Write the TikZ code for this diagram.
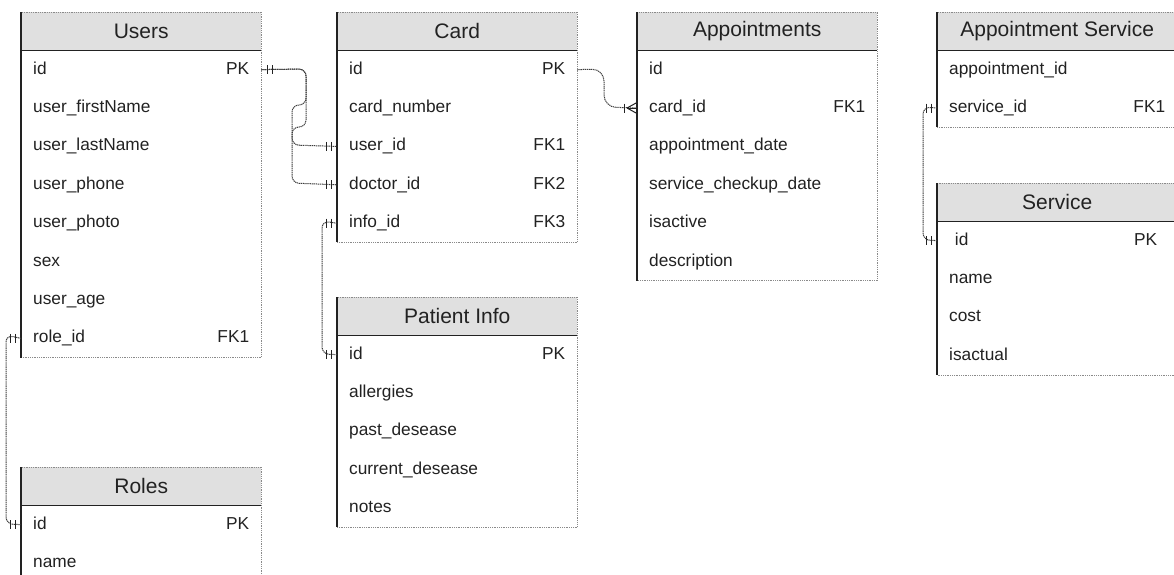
\documentclass[tikz,border=0pt]{standalone}
\usepackage{fontspec}
\setmainfont{Liberation Sans}
\definecolor{hdrfill}{HTML}{E0E0E0}
\definecolor{ink}{HTML}{222222}
\definecolor{edgegrey}{HTML}{8A8A8A}
\definecolor{connc}{HTML}{3C3C3C}
\tikzset{
 hdr/.style={anchor=north west, fill=hdrfill, minimum width=240pt, minimum height=38pt, inner sep=0pt, font=\fontsize{21}{25}\selectfont, text=ink},
 fld/.style={anchor=north west, minimum height=38pt, text width=216pt, inner xsep=12pt, inner ysep=0pt, text height=12.5pt, text depth=3.5pt, align=left, font=\fontsize{17.3}{20}\selectfont, text=ink},
 outline/.style={draw=edgegrey, line width=0.8pt, dash pattern=on 1pt off 0.8pt},
 leftline/.style={draw=ink, line width=1.5pt},
 hdrline/.style={draw=ink, line width=1.6pt},
 conn/.style={draw=connc, line width=1pt, dash pattern=on 1.2pt off 0.7pt, rounded corners=7pt},
 tick/.style={draw=ink, line width=1pt},
}
\begin{document}
\begin{tikzpicture}[x=1pt,y=-1pt]
\useasboundingbox (0,0) rectangle (1174,574);
\fill[white] (0,0) rectangle (1174,574);
\clip (0,0) rectangle (1174,574);

% Users
\node[hdr] (users) at (21,12) {Users};
\node[fld] (users-id) at (users.south west) {id\hfill PK};
\node[fld] (users-fn) at (users-id.south west) {user\_firstName};
\node[fld] (users-ln) at (users-fn.south west) {user\_lastName};
\node[fld] (users-ph) at (users-ln.south west) {user\_phone};
\node[fld] (users-pt) at (users-ph.south west) {user\_photo};
\node[fld] (users-sx) at (users-pt.south west) {sex};
\node[fld] (users-ag) at (users-sx.south west) {user\_age};
\node[fld] (users-role) at (users-ag.south west) {role\_id\hfill FK1};
\draw[outline] (users.north west) rectangle (users-role.south east);
\draw[leftline] (users.north west) -- (users-role.south west);
\draw[hdrline] (users.south west) -- (users.south east);

% Roles
\node[hdr] (roles) at (21,467) {Roles};
\node[fld] (roles-id) at (roles.south west) {id\hfill PK};
\node[fld] (roles-nm) at (roles-id.south west) {name};
\draw[outline] (roles.north west) rectangle (roles-nm.south east);
\draw[leftline] (roles.north west) -- (roles-nm.south west);
\draw[hdrline] (roles.south west) -- (roles.south east);

% Card
\node[hdr] (card) at (337,12) {Card};
\node[fld] (card-id) at (card.south west) {id\hfill PK};
\node[fld] (card-num) at (card-id.south west) {card\_number};
\node[fld] (card-uid) at (card-num.south west) {user\_id\hfill FK1};
\node[fld] (card-did) at (card-uid.south west) {doctor\_id\hfill FK2};
\node[fld] (card-info) at (card-did.south west) {info\_id\hfill FK3};
\draw[outline] (card.north west) rectangle (card-info.south east);
\draw[leftline] (card.north west) -- (card-info.south west);
\draw[hdrline] (card.south west) -- (card.south east);

% Patient Info
\node[hdr] (pat) at (337,297) {Patient Info};
\node[fld] (pat-id) at (pat.south west) {id\hfill PK};
\node[fld] (pat-al) at (pat-id.south west) {allergies};
\node[fld] (pat-pd) at (pat-al.south west) {past\_desease};
\node[fld] (pat-cd) at (pat-pd.south west) {current\_desease};
\node[fld] (pat-nt) at (pat-cd.south west) {notes};
\draw[outline] (pat.north west) rectangle (pat-nt.south east);
\draw[leftline] (pat.north west) -- (pat-nt.south west);
\draw[hdrline] (pat.south west) -- (pat.south east);

% Appointments
\node[hdr] (appt) at (637,12) {Appointments};
\node[fld] (appt-id) at (appt.south west) {id};
\node[fld] (appt-cid) at (appt-id.south west) {card\_id\hfill FK1};
\node[fld] (appt-ad) at (appt-cid.south west) {appointment\_date};
\node[fld] (appt-sc) at (appt-ad.south west) {service\_checkup\_date};
\node[fld] (appt-ia) at (appt-sc.south west) {isactive};
\node[fld] (appt-ds) at (appt-ia.south west) {description};
\draw[outline] (appt.north west) rectangle (appt-ds.south east);
\draw[leftline] (appt.north west) -- (appt-ds.south west);
\draw[hdrline] (appt.south west) -- (appt.south east);

% Appointment Service
\node[hdr] (as) at (937,12) {Appointment Service};
\node[fld] (as-aid) at (as.south west) {appointment\_id};
\node[fld] (as-sid) at (as-aid.south west) {service\_id\hfill FK1};
\draw[outline] (as.north west) rectangle (as-sid.south east);
\draw[leftline] (as.north west) -- (as-sid.south west);
\draw[hdrline] (as.south west) -- (as.south east);

% Service
\node[hdr] (svc) at (937,183) {Service};
\node[fld] (svc-id) at (svc.south west) {\ id\hfill PK\hspace*{8pt}};
\node[fld] (svc-nm) at (svc-id.south west) {name};
\node[fld] (svc-co) at (svc-nm.south west) {cost};
\node[fld] (svc-ia) at (svc-co.south west) {isactual};
\draw[outline] (svc.north west) rectangle (svc-ia.south east);
\draw[leftline] (svc.north west) -- (svc-ia.south west);
\draw[hdrline] (svc.south west) -- (svc.south east);

% Connectors
\draw[conn] (users-id.east) -- (306,69) -- (306,105) -- (292,105) -- (292,145) -- (card-uid.west);
\draw[conn] (users-id.east) -- (306,69) -- (306,127) -- (292,127) -- (292,183) -- (card-did.west);
\draw[conn] (card-info.west) -- (322,221) -- (322,354) -- (pat-id.west);
\draw[conn,rounded corners=12pt] (card-id.east) -- (604,69) -- (604,107) -- (appt-cid.west);
\draw[conn] (users-role.west) -- (6,335) -- (6,524) -- (roles-id.west);
\draw[conn] (as-sid.west) -- (923,107) -- (923,240) -- (svc-id.west);

% one-and-only-one ticks
\foreach \n/\s in {users-id.east/1, card-uid.west/-1, card-did.west/-1, card-info.west/-1, pat-id.west/-1, users-role.west/-1, roles-id.west/-1, as-sid.west/-1, svc-id.west/-1}{
  \draw[tick] ([xshift=\s*6pt,yshift=4.5pt]\n) -- ([xshift=\s*6pt,yshift=-4.5pt]\n);
  \draw[tick] ([xshift=\s*11pt,yshift=4.5pt]\n) -- ([xshift=\s*11pt,yshift=-4.5pt]\n);
}
% one-or-many crow's foot
\draw[tick] ([xshift=-10pt]appt-cid.west) -- ([yshift=5.5pt]appt-cid.west);
\draw[tick] ([xshift=-10pt]appt-cid.west) -- (appt-cid.west);
\draw[tick] ([xshift=-10pt]appt-cid.west) -- ([yshift=-5.5pt]appt-cid.west);
\draw[tick] ([xshift=-13pt,yshift=4.5pt]appt-cid.west) -- ([xshift=-13pt,yshift=-4.5pt]appt-cid.west);
\end{tikzpicture}
\end{document}
